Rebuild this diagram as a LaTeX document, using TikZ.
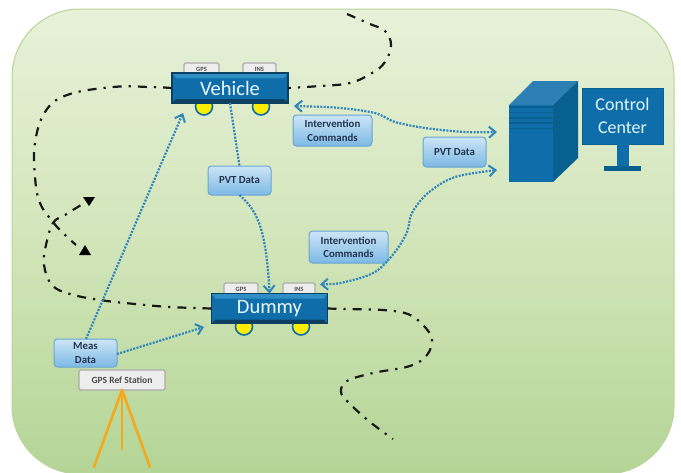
\documentclass[tikz,border=0pt]{standalone}
\usepackage{fontspec}
\setmainfont{Carlito}
\usetikzlibrary{arrows.meta,calc}
\definecolor{bgtop}{HTML}{E7F1D8}
\definecolor{bgmid}{HTML}{D2E5BA}
\definecolor{bgbot}{HTML}{B4D596}
\definecolor{bgedge}{HTML}{B9D29A}
\definecolor{flow}{HTML}{2F86BC}
\definecolor{bodyblue}{HTML}{0F6EAA}
\definecolor{bodylight}{HTML}{2E8FC6}
\definecolor{bodydark}{HTML}{0C3F60}
\definecolor{srvfront}{HTML}{0F6EAA}
\definecolor{srvtop}{HTML}{2B7FB3}
\definecolor{srvside}{HTML}{07608F}
\definecolor{labtext}{HTML}{24344E}
\definecolor{labtop}{HTML}{CDE5F6}
\definecolor{labbot}{HTML}{7DB9E5}
\definecolor{labedge}{HTML}{69A6D0}
\definecolor{antenna}{HTML}{F5A81C}
\tikzset{
  track/.style={line width=2.2pt,black!90,dash pattern=on 9pt off 7pt on 2.2pt off 7pt,line cap=butt},
  flowline/.style={line width=2.2pt,flow,dash pattern=on 2pt off 1.4pt},
  flowtip/.style={-{Straight Barb[length=6.5pt,width=11pt,line width=2pt]}},
  bothtips/.style={{Straight Barb[length=6.5pt,width=11pt,line width=2pt]}-{Straight Barb[length=6.5pt,width=11pt,line width=2pt]}},
  label/.style={draw=labedge,line width=1pt,rounded corners=3.5pt,top color=labtop,bottom color=labbot,
    text=labtext,font=\fontsize{10.8}{13.5}\selectfont\bfseries,align=center,inner sep=0pt,outer sep=0pt,anchor=north west},
  tagbox/.style={draw=black!33,line width=1.2pt,fill=black!7,rounded corners=1.5pt,inner sep=0pt,outer sep=0pt,
    text=black!70,font=\fontsize{6.5}{7}\selectfont\bfseries,anchor=north west},
  wheel/.style={circle,draw=bodyblue,line width=1.6pt,fill=yellow!95!orange,minimum size=17pt,inner sep=0pt},
  bodybox/.style={draw=bodydark,line width=1.4pt,fill=bodyblue,text=white!92!cyan,inner sep=0pt,outer sep=0pt,
    minimum width=116pt,minimum height=30pt,font=\fontsize{20.5}{21}\selectfont,
    path picture={
      \fill[bodylight] (path picture bounding box.north west) -- (path picture bounding box.north east)
        -- ([shift={(-4,5)}]path picture bounding box.north east) -- ([shift={(4,5)}]path picture bounding box.north west) -- cycle;
      \fill[bodydark] (path picture bounding box.south west) -- (path picture bounding box.south east)
        -- ([shift={(-4,-4)}]path picture bounding box.south east) -- ([shift={(4,-4)}]path picture bounding box.south west) -- cycle;
    }},
  screen/.style={fill=srvfront,draw=srvside,line width=.6pt,text=white!88!cyan,inner sep=0pt,outer sep=0pt,align=center,
    font=\fontsize{18}{23}\selectfont,anchor=north west},
  mast/.style={antenna,line width=2.6pt,line cap=round},
}
\begin{document}
\begin{tikzpicture}[x=1pt,y=-1pt]
\useasboundingbox (0,0) rectangle (681,472);
% panel
\path[rounded corners=68pt,draw=bgedge,line width=1pt,top color=bgtop,bottom color=bgbot,middle color=bgmid]
  (12,9) rectangle (674,474);

% wheels
\node[wheel] (w1) at (204,106.5) {};
\node[wheel] (w2) at (261,106.5) {};
\node[wheel] (w3) at (244,326.5) {};
\node[wheel] (w4) at (301,326.5) {};

% sensor tags
\node[tagbox,minimum width=35pt,minimum height=12pt] (vg) at (184,63) {GPS};
\node[tagbox,minimum width=33pt,minimum height=12pt] (vi) at (243,63) {INS};
\node[tagbox,minimum width=34pt,minimum height=12pt] (dg) at (224,283) {GPS};
\node[tagbox,minimum width=32pt,minimum height=12pt] (di) at (283,283) {INS};

% carriers
\node[bodybox] (vehicle) at (230,88) {Vehicle};
\node[bodybox] (dummy) at (269.5,308.5) {Dummy};

% labels
\node[label,minimum width=79pt,minimum height=31pt] (ic1) at (293,115) {Intervention\\Commands};
\node[label,minimum width=79pt,minimum height=32pt] (ic2) at (309,231) {Intervention\\Commands};
\node[label,minimum width=63pt,minimum height=29pt] (pvt1) at (208,166) {PVT Data};
\node[label,minimum width=63pt,minimum height=30pt] (pvt2) at (423,137) {PVT Data};
\node[label,minimum width=63pt,minimum height=28pt] (meas) at (54,339) {Meas\\Data};
\node[tagbox,minimum width=86pt,minimum height=20pt,font=\fontsize{9.5}{11}\selectfont\bfseries] (ref) at (79,370) {GPS Ref Station};

% server
\node[inner sep=0pt,outer sep=0pt,minimum width=44pt,minimum height=77pt,fill=srvfront,anchor=north west] (server) at (509,105) {};
\fill[srvtop] (server.north west) -- (533,81) -- (578,81) -- (server.north east) -- cycle;
\fill[srvside] (server.north east) -- (578,81) -- (578,158) -- (server.south east) -- cycle;
\foreach \yy in {106,111.5,117,122,127.5} \fill[srvside] (509,\yy) rectangle (553,\yy+1.6);

% monitor
\node[screen,minimum width=81pt,minimum height=56pt] (monitor) at (582,88) {\raisebox{-1pt}{Control}\\\raisebox{-1pt}{Center}};
\fill[srvfront] (617,144) rectangle (629,166);
\fill[srvside] (604,166) rectangle (641,171);

% antenna
\coordinate (apex) at (122,390);
\coordinate (legl) at (94,467);
\coordinate (legm) at (122,449);
\coordinate (legr) at (150,467);
\draw[mast] (apex) -- (legl);
\draw[mast] (apex) -- (legm);
\draw[mast] (apex) -- (legr);

% tracks
\draw[track] plot[smooth,tension=.65] coordinates {(347,14) (370,24) (385,31) (391,45) (385,62) (372,73) (350,83) (320,86) (vehicle.east)};
\draw[track] plot[smooth,tension=.65] coordinates {(vehicle.west) (150,87) (113,87) (67,95) (45,112) (35,143) (35,177) (40,203) (53,222) (63,233) (76,245)};
\coordinate (tipa) at (85,245);
\coordinate (tipb) at (89,206);
\fill[black] (tipa) -- (79,255) -- (91,255) -- cycle;
\draw[track] plot[smooth,tension=.65] coordinates {(dummy.west) (170,307) (135,304) (100,300) (70,294) (52,285) (44,265) (46,245) (53,223) (65,215) (81,205)};
\fill[black] (tipb) -- (83,197) -- (95,197) -- cycle;
\draw[track] plot[smooth,tension=.6] coordinates {(dummy.east) (345,309) (383,310) (408,314) (423,325) (432,339) (427,355) (410,366) (373,373) (347,381) (341,392) (349,403) (370,422) (393,439)};

% flows
\coordinate (vin) at (183,113);
\coordinate (din) at (204,327);
\coordinate (vport) at (294,106);
\coordinate (dport) at (320,284.5);
\coordinate (cport1) at (497,132);
\coordinate (cport2) at (497,170);
\coordinate (mstart) at (86,339);
\draw[flowline,flowtip] (mstart) -- (vin);
\draw[flowline,flowtip] ([yshift=-1pt]meas.east) -- (din);
\draw[flowline] (vehicle.south) -- (pvt1.north);
\draw[flowline,flowtip] (pvt1.south) .. controls (256,210) and (266,225) .. (dummy.north);
\draw[flowline,bothtips] plot[smooth,tension=.5] coordinates {(vport) (340,108) (375,113) (395,122) (425,128) (465,132) (cport1)};
\draw[flowline,bothtips] plot[smooth,tension=.55] coordinates {(dport) (345,282) (375,272) (395,252) (407,232) (412,213) (428,193) (455,177) (cport2)};
\end{tikzpicture}
\end{document}
